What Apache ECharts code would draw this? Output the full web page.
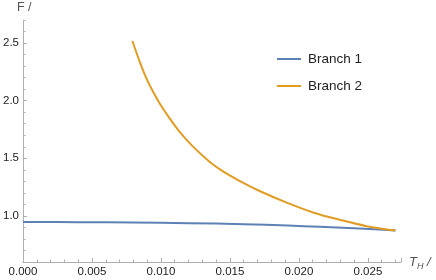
<!DOCTYPE html>
<html>
<head>
<meta charset="utf-8">
<script src="https://cdn.jsdelivr.net/npm/echarts@6/dist/echarts.min.js"></script>
<style>html,body{margin:0;padding:0;background:#fff;}#c{width:436px;height:280px;}</style>
</head>
<body>
<div id="c"></div>
<script>
var seriesNames = ['Branch 1', 'Branch 2'];
var branch1 = [[0.000,0.948],[0.004,0.946],[0.008,0.942],[0.012,0.937],[0.016,0.928],[0.0192,0.916],[0.0215,0.906],[0.024,0.893],[0.0255,0.884],[0.0270,0.873]];
var branch2 = [[0.00793,2.518],[0.00846,2.339],[0.00894,2.195],[0.00942,2.079],[0.00990,1.978],[0.01062,1.848],[0.01134,1.732],[0.01231,1.603],[0.01350,1.473],[0.01450,1.386],[0.01579,1.298],[0.01723,1.212],[0.01916,1.113],[0.02108,1.028],[0.0230,0.965],[0.02492,0.911],[0.0270,0.873]];
var xTickLabels = [0, 0.005, 0.010, 0.015, 0.020, 0.025];
var yTickLabels = [1.0, 1.5, 2.0, 2.5];

var axisColor = '#b0b0b0';
var labelColor = '#222';
var fontFamily = "'Liberation Sans', Arial, sans-serif";

var chart = echarts.init(document.getElementById('c'), null, {renderer: 'canvas'});
chart.setOption({
  animation: false,
  textStyle: {fontFamily: fontFamily},
  grid: {left: 21, right: 35, top: 20, bottom: 18, containLabel: false},
  legend: {
    orient: 'vertical', left: 272, top: 47, itemWidth: 24, itemHeight: 14, itemGap: 13,
    icon: 'path://M0,0L24,0L24,2L0,2Z',
    textStyle: {fontSize: 13.5, color: labelColor, fontFamily: fontFamily, padding: [0,0,0,2]},
    data: seriesNames
  },
  xAxis: [
    {
      type: 'value', min: 0, max: 0.0274, interval: 0.005,
      axisLine: {show: true, lineStyle: {color: axisColor, width: 1}},
      axisTick: {show: true, inside: true, length: 4, lineStyle: {color: axisColor}},
      axisLabel: {show: true, customValues: xTickLabels, color: labelColor, fontSize: 11.5, margin: 4, fontFamily: fontFamily,
        formatter: function (v) { return v.toFixed(3); }},
      splitLine: {show: false},
      name: '{t|T}{h|H}{s| /}',
      nameLocation: 'end', nameGap: 8,
      nameTextStyle: {rich: {
        t: {fontSize: 13, fontStyle: 'italic', color: '#555', fontFamily: fontFamily},
        h: {fontSize: 9, fontStyle: 'italic', color: '#555', fontFamily: fontFamily, padding: [8,0,0,0]},
        s: {fontSize: 13, fontStyle: 'italic', color: '#555', fontFamily: fontFamily}
      }}
    },
    {
      type: 'value', min: 0, max: 0.0274, interval: 0.001, position: 'bottom',
      axisLine: {show: false},
      axisTick: {show: true, inside: true, length: 2.5, lineStyle: {color: axisColor}},
      axisLabel: {show: false},
      splitLine: {show: false}
    }
  ],
  yAxis: [
    {
      type: 'value', min: 0.6, max: 2.7, position: 'left',
      axisLine: {show: true, onZero: false, lineStyle: {color: axisColor, width: 1}},
      axisTick: {show: true, inside: true, length: 4, customValues: yTickLabels, lineStyle: {color: axisColor}},
      axisLabel: {show: true, customValues: yTickLabels, color: labelColor, fontSize: 11.5, margin: 4, fontFamily: fontFamily,
        formatter: function (v) { return v.toFixed(1); }},
      splitLine: {show: false},
      name: 'F /', nameLocation: 'end', nameGap: 6,
      nameTextStyle: {fontSize: 12.5, color: '#555', fontFamily: fontFamily, align: 'left', padding: [0,0,0,-6]}
    },
    {
      type: 'value', min: 0.6, max: 2.7, position: 'left',
      axisLine: {show: false},
      axisTick: {show: true, inside: true, length: 2.5,
        customValues: [0.6,0.7,0.8,0.9,1.1,1.2,1.3,1.4,1.6,1.7,1.8,1.9,2.1,2.2,2.3,2.4,2.6,2.7],
        lineStyle: {color: axisColor}},
      axisLabel: {show: false},
      splitLine: {show: false}
    }
  ],
  series: [
    {name: seriesNames[0], type: 'line', data: branch1, smooth: 0.35, showSymbol: false, symbol: 'none',
      lineStyle: {color: '#5e81b5', width: 2}, itemStyle: {color: '#5e81b5'}},
    {name: seriesNames[1], type: 'line', data: branch2, smooth: 0.35, showSymbol: false, symbol: 'none',
      lineStyle: {color: '#e19c24', width: 2}, itemStyle: {color: '#e19c24'}}
  ]
});
</script>
</body>
</html>
